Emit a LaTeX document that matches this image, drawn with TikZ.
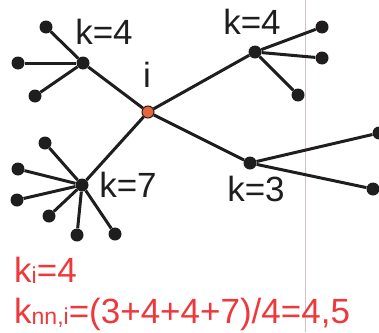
\documentclass[tikz,border=0pt]{standalone}
\usepackage{fontspec}
\setmainfont{Liberation Sans}
\usetikzlibrary{positioning}
\definecolor{EdgeBlack}{RGB}{30,30,30}
\definecolor{FocusOrange}{RGB}{232,100,62}
\definecolor{NoteRed}{RGB}{238,56,60}
\definecolor{RuleGray}{RGB}{214,192,198}
\newcommand{\lowidx}[1]{\raisebox{-1pt}{\fontsize{23}{24}\selectfont #1}}
\tikzset{
  hubnode/.style={circle,fill=EdgeBlack,inner sep=0pt,minimum size=13pt},
  leafnode/.style={circle,fill=EdgeBlack,inner sep=0pt,minimum size=13pt},
  focusnode/.style={circle,fill=FocusOrange,draw=EdgeBlack,line width=1pt,inner sep=0pt,minimum size=12pt},
  link/.style={line width=3pt,draw=EdgeBlack},
  degree/.style={anchor=base,inner sep=0pt,font=\fontsize{35}{40}\selectfont,text=EdgeBlack},
  note/.style={anchor=base west,inner sep=0pt,font=\fontsize{35}{40}\selectfont,text=NoteRed}
}

\begin{document}
\begin{tikzpicture}[x=1pt,y=-1pt]
\useasboundingbox (0,0) rectangle (379,332);
\draw[RuleGray,line width=1pt] (305,0) -- (305,332);

\node[focusnode] (i) at (148,112) {};
\node[hubnode] (a) at (83,63) {};
\node[hubnode] (b) at (255,52) {};
\node[hubnode] (c) at (250,163) {};
\node[hubnode] (d) at (82,185) {};

\foreach \h in {a,b,c,d}{
  \draw[link] (i) -- (\h);
}

% leaves of each hub
\foreach \x/\y [count=\j] in {46/27,18/63,35/96}{
  \node[leafnode] (a\j) at (\x,\y) {};
  \draw[link] (a) -- (a\j);
}
\foreach \x/\y [count=\j] in {322/27,322/58,298/95}{
  \node[leafnode] (b\j) at (\x,\y) {};
  \draw[link] (b) -- (b\j);
}
\foreach \x/\y [count=\j] in {379/133,373/189}{
  \node[leafnode] (c\j) at (\x,\y) {};
  \draw[link] (c) -- (c\j);
}
\foreach \x/\y [count=\j] in {45/143,18/169,17/200,49/216,77/235,115/234}{
  \node[leafnode] (d\j) at (\x,\y) {};
  \draw[link] (d) -- (d\j);
}

\node[degree] (ka) at (104,44) {k=4};
\node[degree] (ki) at (147,87) {i};
\node[degree] (kb) at (252,34) {k=4};
\node[degree] (kc) at (256,201) {k=3};
\node[degree] (kd) at (128,197) {k=7};

\node[note] (deg) at (14,282) {k\lowidx{i}=4};
\node[note] (knn) at (14,323) {k\lowidx{nn,i}=(3+4+4+7)/4=4,5};
\end{tikzpicture}
\end{document}
